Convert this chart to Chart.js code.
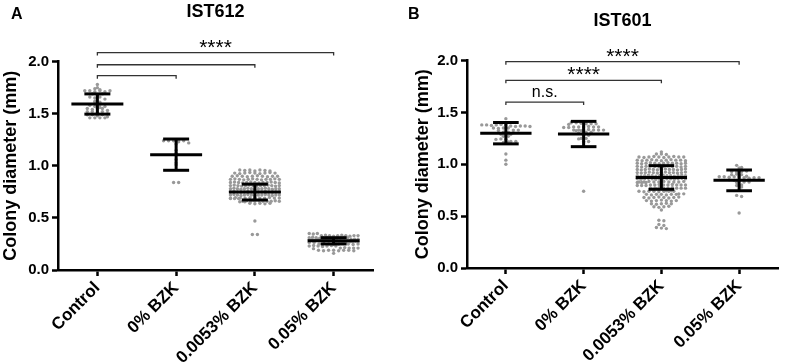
<!DOCTYPE html>
<html>
<head>
<meta charset="utf-8">
<script src="https://cdn.jsdelivr.net/npm/chart.js@4.4.1/dist/chart.umd.min.js"></script>
<style>
  body { margin: 0; background: #fff; }
  #wrap { position: relative; width: 785px; height: 362px; }
  .panel { position: absolute; top: 0; height: 362px; }
</style>
</head>
<body>
<div id="wrap">
  <div class="panel" style="left:0;width:392px"><canvas id="chartA" width="392" height="362"></canvas></div>
  <div class="panel" style="left:392px;width:393px"><canvas id="chartB" width="393" height="362"></canvas></div>
</div>
<script>
const categories = ["Control", "0% BZK", "0.0053% BZK", "0.05% BZK"];
const yTicks = [0, 0.5, 1.0, 1.5, 2.0];

// IST612 (panel A) colony diameters, mm
const ist612Control = [1.78, 1.75, 1.74, 1.72, 1.72, 1.71, 1.72, 1.73, 1.71, 1.72, 1.69, 1.68, 1.69, 1.66, 1.65,
  1.66, 1.64, 1.62, 1.61, 1.60, 1.59, 1.58, 1.57, 1.56, 1.57, 1.55, 1.54, 1.55, 1.55, 1.53, 1.52, 1.52,
  1.51, 1.52, 1.50, 1.49, 1.49, 1.48, 1.49, 1.46, 1.46, 1.46, 1.47, 1.46];
const ist612Bzk0 = [1.25, 1.24, 1.24, 1.24, 1.25, 1.23, 1.24, 1.22, 1.21, 1.15, 1.12, 1.06, 1.03, 1.01, 0.84, 0.84];
const ist612Bzk0053 = [0.96, 0.955, 0.96, 0.95, 0.96, 0.955, 0.95,
  0.93, 0.925, 0.93, 0.935, 0.93, 0.925, 0.93, 0.935, 0.93,
  0.90, 0.905, 0.90, 0.895, 0.90, 0.905, 0.90, 0.895, 0.90, 0.90,
  0.87, 0.875, 0.87, 0.865, 0.87, 0.875, 0.87, 0.865, 0.87, 0.87, 0.875, 0.87,
  0.84, 0.845, 0.84, 0.835, 0.84, 0.845, 0.84, 0.835, 0.84, 0.84, 0.845, 0.84, 0.835,
  0.81, 0.815, 0.81, 0.805, 0.81, 0.815, 0.81, 0.805, 0.81, 0.81, 0.815, 0.81, 0.805, 0.81,
  0.78, 0.785, 0.78, 0.775, 0.78, 0.785, 0.78, 0.775, 0.78, 0.78, 0.785, 0.78, 0.775, 0.78, 0.78,
  0.75, 0.755, 0.75, 0.745, 0.75, 0.755, 0.75, 0.745, 0.75, 0.75, 0.755, 0.75, 0.745, 0.75, 0.75,
  0.72, 0.725, 0.72, 0.715, 0.72, 0.725, 0.72, 0.715, 0.72, 0.72, 0.725, 0.72, 0.715, 0.72, 0.72,
  0.69, 0.695, 0.69, 0.685, 0.69, 0.695, 0.69, 0.685, 0.69, 0.69, 0.695, 0.69, 0.685, 0.69,
  0.66, 0.665, 0.66, 0.655, 0.66, 0.665, 0.66, 0.655, 0.66, 0.66, 0.665, 0.66,
  0.64, 0.635, 0.64, 0.635, 0.64,
  0.47, 0.34, 0.34];
const ist612Bzk05 = [0.35, 0.345, 0.35,
  0.33, 0.335, 0.33, 0.325, 0.33, 0.335, 0.33, 0.325, 0.33, 0.33,
  0.31, 0.315, 0.31, 0.305, 0.31, 0.315, 0.31, 0.305, 0.31, 0.31, 0.315, 0.31,
  0.29, 0.295, 0.29, 0.285, 0.29, 0.295, 0.29, 0.285, 0.29, 0.29, 0.295, 0.29,
  0.27, 0.275, 0.27, 0.265, 0.27, 0.275, 0.27, 0.265, 0.27, 0.27, 0.275, 0.27,
  0.25, 0.255, 0.25, 0.245, 0.25, 0.255, 0.25, 0.245, 0.25,
  0.23, 0.235, 0.23, 0.225, 0.23, 0.235, 0.23,
  0.21, 0.215, 0.21, 0.205, 0.21, 0.21,
  0.19, 0.185, 0.19, 0.19, 0.185, 0.19, 0.19, 0.185,
  0.16];
const ist612Mean = [1.593, 1.107, 0.748, 0.28];
const ist612Sd = [0.097, 0.15, 0.076, 0.03];

// IST601 (panel B) colony diameters, mm
const ist601Control = [1.44,
  1.38, 1.38, 1.375, 1.38, 1.385, 1.38,
  1.37, 1.365, 1.37, 1.37, 1.365,
  1.35, 1.345, 1.35, 1.35,
  1.33, 1.33, 1.325,
  1.31, 1.31, 1.305,
  1.29, 1.285, 1.29,
  1.27, 1.27,
  1.24, 1.245, 1.24,
  1.22, 1.21, 1.22, 1.215,
  1.10, 1.04, 1.00];
const ist601Bzk0 = [1.40, 1.40, 1.395,
  1.39, 1.39, 1.385, 1.39,
  1.36, 1.36, 1.355, 1.36, 1.365, 1.36, 1.36, 1.355,
  1.33, 1.33, 1.325, 1.33, 1.335, 1.33, 1.33, 1.325, 1.33,
  1.31, 1.30, 1.31,
  1.28, 1.28,
  1.25, 1.25, 1.245,
  1.22, 1.22, 1.215,
  0.74];
const ist601Bzk0053 = [1.12,
  1.10, 1.10, 1.095,
  1.07, 1.065, 1.07, 1.075, 1.07, 1.065, 1.07, 1.075, 1.07, 1.07,
  1.04, 1.035, 1.04, 1.045, 1.04, 1.035, 1.04, 1.045, 1.04, 1.04, 1.035,
  1.01, 1.005, 1.01, 1.015, 1.01, 1.005, 1.01, 1.015, 1.01, 1.01, 1.005, 1.01,
  0.98, 0.975, 0.98, 0.985, 0.98, 0.975, 0.98, 0.985, 0.98, 0.98, 0.975, 0.98,
  0.95, 0.945, 0.95, 0.955, 0.95, 0.945, 0.95, 0.955, 0.95, 0.95, 0.945, 0.95, 0.955,
  0.92, 0.915, 0.92, 0.925, 0.92, 0.915, 0.92, 0.925, 0.92, 0.92, 0.915, 0.92, 0.925,
  0.89, 0.885, 0.89, 0.895, 0.89, 0.885, 0.89, 0.895, 0.89, 0.89, 0.885, 0.89, 0.895, 0.89,
  0.86, 0.855, 0.86, 0.865, 0.86, 0.855, 0.86, 0.865, 0.86, 0.86, 0.855, 0.86, 0.865, 0.86,
  0.83, 0.825, 0.83, 0.835, 0.83, 0.825, 0.83, 0.835, 0.83, 0.83, 0.825, 0.83, 0.835,
  0.80, 0.795, 0.80, 0.805, 0.80, 0.795, 0.80, 0.805, 0.80, 0.80, 0.795, 0.80,
  0.77, 0.765, 0.77, 0.775, 0.77, 0.765, 0.77, 0.775, 0.77, 0.77, 0.765, 0.77,
  0.74, 0.735, 0.74, 0.745, 0.74, 0.735, 0.74, 0.745, 0.74, 0.74,
  0.71, 0.705, 0.71, 0.715, 0.71, 0.705, 0.71, 0.715, 0.71,
  0.68, 0.675, 0.68, 0.685, 0.68, 0.675, 0.68, 0.685,
  0.65, 0.645, 0.65, 0.655, 0.65, 0.645, 0.65,
  0.62, 0.615, 0.62, 0.625, 0.62,
  0.59, 0.585, 0.59, 0.595,
  0.56,
  0.46, 0.455, 0.42, 0.41, 0.39, 0.385, 0.38];
const ist601Bzk05 = [0.99, 0.97, 0.965,
  0.93, 0.925, 0.93, 0.935,
  0.90, 0.905, 0.90,
  0.88, 0.88, 0.875, 0.88, 0.885, 0.88,
  0.87, 0.865, 0.87, 0.87,
  0.85, 0.845, 0.85,
  0.83, 0.825, 0.83,
  0.80, 0.795,
  0.78,
  0.70, 0.69,
  0.53];
const ist601Mean = [1.30, 1.292, 0.873, 0.845];
const ist601Sd = [0.103, 0.122, 0.114, 0.10];

// significance brackets: from group, to group, height (mm), label
const ist612BracketFrom = [0, 0, 0];
const ist612BracketTo = [3, 2, 1];
const ist612BracketLevel = [2.087, 1.97, 1.865];
const ist612BracketLabel = ["****", "", ""];
const ist601BracketFrom = [0, 0, 0];
const ist601BracketTo = [3, 2, 1];
const ist601BracketLevel = [1.99, 1.81, 1.60];
const ist601BracketLabel = ["****", "****", "n.s."];

Chart.defaults.font.family = "'Liberation Sans', Arial, sans-serif";
Chart.defaults.color = "#000";

// beeswarm: values in the same row are spread sideways around the category
const ROW = 0.028, STEP = 0.064, MAXW = 0.62;
function swarm(values, idx) {
  const rows = {};
  values.forEach(v => {
    const k = Math.round(v / ROW);
    (rows[k] = rows[k] || []).push(v);
  });
  const pts = [];
  Object.values(rows).forEach(row => {
    const n = row.length;
    const step = n > 1 ? Math.min(STEP, MAXW / (n - 1)) : 0;
    row.forEach((v, j) => pts.push({ x: idx + (j - (n - 1) / 2) * step, y: v }));
  });
  return pts;
}

const errorBars = {
  id: "errorBars",
  afterDatasetsDraw(chart, args, opts) {
    const { ctx, scales: { x, y } } = chart;
    const line = (x1, y1, x2, y2) => {
      ctx.beginPath(); ctx.moveTo(x1, y1); ctx.lineTo(x2, y2); ctx.stroke();
    };
    ctx.save();
    ctx.strokeStyle = "#000";
    ctx.lineWidth = 3;
    opts.means.forEach((m, i) => {
      const sd = opts.sds[i];
      const yM = y.getPixelForValue(m);
      const yHi = y.getPixelForValue(m + sd);
      const yLo = y.getPixelForValue(m - sd);
      line(x.getPixelForValue(i - 0.33), yM, x.getPixelForValue(i + 0.33), yM);
      line(x.getPixelForValue(i - 0.165), yHi, x.getPixelForValue(i + 0.165), yHi);
      line(x.getPixelForValue(i - 0.165), yLo, x.getPixelForValue(i + 0.165), yLo);
      line(x.getPixelForValue(i), yHi, x.getPixelForValue(i), yLo);
    });
    ctx.restore();
  }
};

const brackets = {
  id: "brackets",
  afterDraw(chart, args, opts) {
    const { ctx, scales: { x, y } } = chart;
    ctx.save();
    ctx.strokeStyle = "#333";
    ctx.fillStyle = "#000";
    ctx.lineWidth = 1.3;
    opts.from.forEach((f, k) => {
      const x1 = x.getPixelForValue(f);
      const x2 = x.getPixelForValue(opts.to[k]);
      const yy = y.getPixelForValue(opts.level[k]);
      ctx.beginPath();
      ctx.moveTo(x1, yy + 3); ctx.lineTo(x1, yy); ctx.lineTo(x2, yy); ctx.lineTo(x2, yy + 3);
      ctx.stroke();
      const txt = opts.labels[k];
      if (txt) {
        ctx.font = txt === "n.s." ? "16px 'Liberation Sans'" : "21px 'Liberation Sans'";
        ctx.textAlign = "center";
        ctx.textBaseline = "alphabetic";
        const m = ctx.measureText(txt);
        ctx.fillText(txt, (x1 + x2) / 2, yy - 5 - m.actualBoundingBoxDescent);
      }
    });
    ctx.font = "bold 16px 'Liberation Sans'";
    ctx.textAlign = "left";
    ctx.textBaseline = "alphabetic";
    ctx.fillText(opts.letter, opts.letterX, 19);
    ctx.restore();
  }
};

function makePanel(id, p) {
  const datasets = p.groups.map((vals, i) => ({
    data: swarm(vals, i),
    pointRadius: 1.7,
    pointHoverRadius: 1.7,
    pointBackgroundColor: "#999",
    pointBorderWidth: 0
  }));
  return new Chart(document.getElementById(id), {
    type: "scatter",
    data: { datasets },
    options: {
      responsive: false,
      animation: false,
      events: [],
      layout: { padding: p.padding },
      plugins: {
        legend: { display: false },
        tooltip: { enabled: false },
        title: {
          display: true,
          text: p.title,
          fullSize: false,
          color: "#000",
          font: { size: 18, weight: "bold" },
          padding: p.titlePad
        },
        errorBars: { means: p.means, sds: p.sds },
        brackets: { from: p.bFrom, to: p.bTo, level: p.bLevel, labels: p.bLabel, letter: p.letter, letterX: p.letterX }
      },
      scales: {
        x: {
          type: "linear",
          min: -0.5,
          max: 3.5,
          afterBuildTicks: s => { s.ticks = categories.map((c, i) => ({ value: i })); },
          afterFit: s => { s.height = p.xHeight; },
          ticks: {
            callback: v => categories[v],
            autoSkip: false,
            minRotation: 45,
            maxRotation: 45,
            color: "#000",
            font: { size: 17, weight: "bold" },
            padding: 2
          },
          grid: { drawOnChartArea: false, drawTicks: true, tickLength: 6, tickWidth: 2.5, tickColor: "#000" },
          border: { display: true, color: "#000", width: 2.5 }
        },
        y: {
          min: 0,
          max: 2,
          afterBuildTicks: s => { s.ticks = yTicks.map(v => ({ value: v })); },
          afterFit: s => { s.width = p.yWidth; },
          ticks: {
            callback: v => v.toFixed(1),
            color: "#000",
            font: { size: 15, weight: "bold" },
            padding: 3
          },
          title: {
            display: true,
            text: "Colony diameter (mm)",
            color: "#000",
            font: { size: 18, weight: "bold" },
            padding: { top: 0, bottom: 0 }
          },
          grid: { drawOnChartArea: false, drawTicks: true, tickLength: 6, tickWidth: 2.5, tickColor: "#000" },
          border: { display: true, color: "#000", width: 2.5 }
        }
      }
    },
    plugins: [errorBars, brackets]
  });
}

makePanel("chartA", {
  groups: [ist612Control, ist612Bzk0, ist612Bzk0053, ist612Bzk05],
  means: ist612Mean, sds: ist612Sd,
  bFrom: ist612BracketFrom, bTo: ist612BracketTo, bLevel: ist612BracketLevel, bLabel: ist612BracketLabel,
  title: "IST612", titlePad: { top: 1, bottom: 39 },
  letter: "A", letterX: 11,
  padding: { left: 0, right: 19, top: 0, bottom: 0 },
  yWidth: 58, xHeight: 92
});

makePanel("chartB", {
  groups: [ist601Control, ist601Bzk0, ist601Bzk0053, ist601Bzk05],
  means: ist601Mean, sds: ist601Sd,
  bFrom: ist601BracketFrom, bTo: ist601BracketTo, bLevel: ist601BracketLevel, bLabel: ist601BracketLabel,
  title: "IST601", titlePad: { top: 10, bottom: 29 },
  letter: "B", letterX: 16,
  padding: { left: 20, right: 7, top: 0, bottom: 0 },
  yWidth: 55, xHeight: 94
});
</script>
</body>
</html>
